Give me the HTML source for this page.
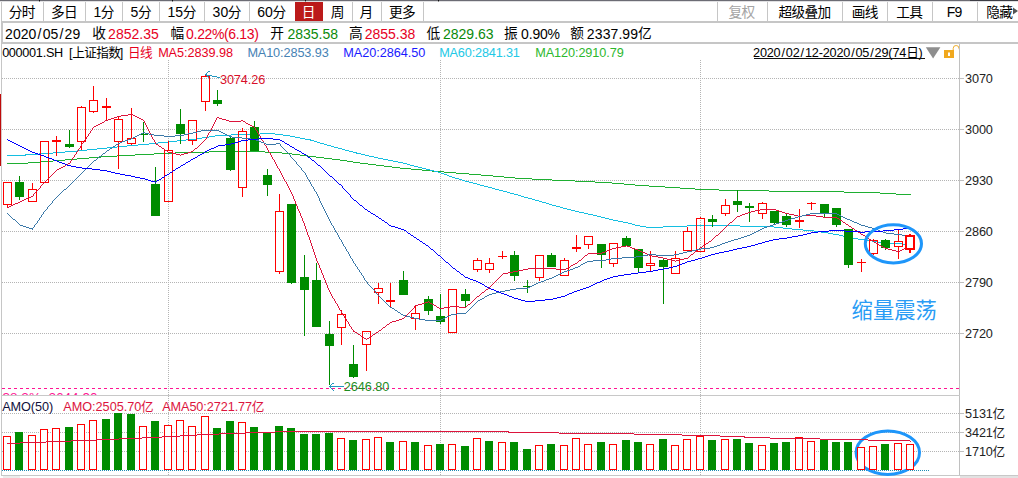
<!DOCTYPE html>
<html><head><meta charset="utf-8"><title>000001.SH</title>
<style>html,body{margin:0;padding:0;background:#fff;overflow:hidden}body{width:1018px;height:478px;font-family:"Liberation Sans", sans-serif}.cj{font-family:"Liberation Sans","Noto Sans CJK SC",sans-serif}</style>
</head><body><svg width="1018" height="478" viewBox="0 0 1018 478" font-family='"Liberation Sans", sans-serif' style="display:block"><rect x="0" y="0" width="1018" height="478" fill="#fff"/>
<rect x="0" y="0" width="1018" height="1" fill="#6c6c74"/>
<rect x="0" y="1" width="1018" height="1" fill="#e0e0e2"/>
<rect x="970" y="0" width="48" height="1" fill="#3c3c44"/>
<rect x="39" y="0" width="1" height="1" fill="#111"/>
<rect x="39" y="1" width="1" height="1" fill="#888"/>
<rect x="172" y="0" width="1" height="1" fill="#111"/>
<rect x="172" y="1" width="1" height="1" fill="#888"/>
<rect x="305" y="0" width="1" height="1" fill="#111"/>
<rect x="305" y="1" width="1" height="1" fill="#888"/>
<rect x="438" y="0" width="1" height="1" fill="#111"/>
<rect x="438" y="1" width="1" height="1" fill="#888"/>
<rect x="1" y="2" width="1" height="474" fill="#c6c6c6"/>
<rect x="0" y="94" width="1" height="72" fill="#bf0a0a"/>
<rect x="1" y="94" width="1" height="72" fill="#d8c8c8"/>
<rect x="43" y="2" width="1" height="19" fill="#c6c6c6"/>
<rect x="85" y="2" width="1" height="19" fill="#c6c6c6"/>
<rect x="122" y="2" width="1" height="19" fill="#c6c6c6"/>
<rect x="159" y="2" width="1" height="19" fill="#c6c6c6"/>
<rect x="204" y="2" width="1" height="19" fill="#c6c6c6"/>
<rect x="249" y="2" width="1" height="19" fill="#c6c6c6"/>
<rect x="352" y="2" width="1" height="19" fill="#c6c6c6"/>
<rect x="381" y="2" width="1" height="19" fill="#c6c6c6"/>
<rect x="423" y="2" width="1" height="19" fill="#c6c6c6"/>
<rect x="717" y="2" width="1" height="19" fill="#c6c6c6"/>
<rect x="767" y="2" width="1" height="19" fill="#c6c6c6"/>
<rect x="842" y="2" width="1" height="19" fill="#c6c6c6"/>
<rect x="887" y="2" width="1" height="19" fill="#c6c6c6"/>
<rect x="932" y="2" width="1" height="19" fill="#c6c6c6"/>
<rect x="977" y="2" width="1" height="19" fill="#c6c6c6"/>
<rect x="295" y="2" width="28" height="19" fill="#bb1a1a"/>
<rect x="1" y="21" width="1017" height="2" fill="#c6c6c6"/>
<rect x="1" y="42" width="1017" height="2" fill="#c6c6c6"/>
<rect x="2" y="23" width="1" height="19" fill="#c6c6c6"/>
<text class="cj" x="8.68 21.68" y="17.25" font-size="13.7" fill="#000">分时</text>
<text class="cj" x="50.88 63.88" y="17.25" font-size="13.7" fill="#000">多日</text>
<text x="93.40" y="16.90" font-size="14.0" fill="#000">1</text>
<text class="cj" x="100.86" y="17.25" font-size="13.7" fill="#000">分</text>
<text x="130.50" y="16.90" font-size="14.0" fill="#000">5</text>
<text class="cj" x="137.96" y="17.25" font-size="13.7" fill="#000">分</text>
<text x="167.40 175.19" y="16.90" font-size="14.0" fill="#000">15</text>
<text class="cj" x="182.65" y="17.25" font-size="13.7" fill="#000">分</text>
<text x="212.60 220.39" y="16.90" font-size="14.0" fill="#000">30</text>
<text class="cj" x="227.85" y="17.25" font-size="13.7" fill="#000">分</text>
<text x="257.20 264.99" y="16.90" font-size="14.0" fill="#000">60</text>
<text class="cj" x="272.45" y="17.25" font-size="13.7" fill="#000">分</text>
<text class="cj" x="301.68" y="17.25" font-size="13.7" fill="#fff">日</text>
<text class="cj" x="330.68" y="17.25" font-size="13.7" fill="#000">周</text>
<text class="cj" x="359.48" y="17.25" font-size="13.7" fill="#000">月</text>
<text class="cj" x="388.98 401.98" y="17.25" font-size="13.7" fill="#000">更多</text>
<text class="cj" x="728.57 741.57" y="17.25" font-size="13.7" fill="#a4a4a4">复权</text>
<text class="cj" x="778.57 791.57 804.57 817.57" y="17.25" font-size="13.7" fill="#000">超级叠加</text>
<text class="cj" x="851.67 864.67" y="17.25" font-size="13.7" fill="#000">画线</text>
<text class="cj" x="896.17 909.17" y="17.25" font-size="13.7" fill="#000">工具</text>
<text x="946.75 954.43" y="16.90" font-size="14.0" fill="#000">F9</text>
<text class="cj" x="986.17 999.17" y="17.25" font-size="13.7" fill="#000">隐藏</text>
<path d="M1013 7.5 L1018 11 L1013 14.5Z" fill="#555"/>
<text x="5.03 12.88 20.73 28.57 37.55 42.63 50.48 59.46 64.54 72.38" y="38.70" font-size="14.0" fill="#000">2020/05/29</text>
<text class="cj" x="92.27" y="38.45" font-size="13.7" fill="#000">收</text>
<text x="108.10 115.88 123.67 131.45 139.24 143.13 150.91" y="38.70" font-size="14.0" fill="#e6001e">2852.35</text>
<text class="cj" x="170.58" y="38.45" font-size="13.7" fill="#000">幅</text>
<text x="186.11 193.61 197.21 204.61 211.89 223.92 228.27 235.77 239.37 246.77 254.25" y="38.70" font-size="14.0" fill="#e6001e">0.22%(6.13)</text>
<text class="cj" x="270.28" y="38.45" font-size="13.7" fill="#000">开</text>
<text x="287.40 295.18 302.97 310.75 318.54 322.43 330.21" y="38.70" font-size="14.0" fill="#0a8a0a">2835.58</text>
<text class="cj" x="348.88" y="38.45" font-size="13.7" fill="#000">高</text>
<text x="364.70 372.48 380.27 388.05 395.84 399.73 407.51" y="38.70" font-size="14.0" fill="#e6001e">2855.38</text>
<text class="cj" x="426.57" y="38.45" font-size="13.7" fill="#000">低</text>
<text x="443.00 450.78 458.57 466.35 474.14 478.03 485.81" y="38.70" font-size="14.0" fill="#0a8a0a">2829.63</text>
<text class="cj" x="503.98" y="38.45" font-size="13.7" fill="#000">振</text>
<text x="521.00 528.64 532.39 539.98 547.51" y="38.70" font-size="14.0" fill="#000">0.90%</text>
<text class="cj" x="570.27" y="38.45" font-size="13.7" fill="#000">额</text>
<text x="586.85 594.75 602.64 610.53 618.40 622.37 630.26" y="38.70" font-size="14.0" fill="#000">2337.99</text>
<text class="cj" x="637.97" y="38.45" font-size="13.7" fill="#000">亿</text>
<text x="2.14 8.87 15.61 22.34 29.08 35.81 42.63 45.88 53.94" y="56.80" font-size="12.7" fill="#000">000001.SH</text>
<text x="69.04" y="56.80" font-size="12.7" fill="#000">[</text>
<text class="cj" x="72.30 84.30 96.30 108.30" y="57.03" font-size="12.6" fill="#000">上证指数</text>
<text x="119.64" y="56.80" font-size="12.7" fill="#000">]</text>
<text class="cj" x="127.90 139.90" y="57.03" font-size="12.6" fill="#e6001e">日线</text>
<text x="158.14 168.61 177.00 184.00 187.47 194.45 201.44 208.42 215.42 218.89 225.88" y="56.80" font-size="12.7" fill="#e6001e">MA5:2839.98</text>
<text x="247.41 257.83 266.16 273.11 280.08 283.52 290.46 297.40 304.34 311.32 314.75 321.70" y="56.80" font-size="12.7" fill="#4682b4">MA10:2853.93</text>
<text x="343.35 353.83 362.23 369.22 376.23 379.71 386.70 393.70 400.69 407.70 411.18 418.17" y="56.80" font-size="12.7" fill="#1a1aff">MA20:2864.50</text>
<text x="439.26 449.58 457.85 464.72 471.64 475.03 481.90 488.78 495.65 502.57 505.96 512.83" y="56.80" font-size="12.7" fill="#22c8e6">MA60:2841.31</text>
<text x="535.22 545.67 554.03 560.99 567.95 574.94 578.40 585.36 592.32 599.28 606.27 609.72 616.69" y="56.80" font-size="12.7" fill="#2db82d">MA120:2910.79</text>
<text x="753.09 759.93 766.77 773.62 781.51 785.87 792.71 800.61 804.97 811.81 818.70 822.75 829.59 836.43 843.27 851.17 855.53 862.37 870.26 874.62 881.47 888.35 892.41 899.25" y="56.80" font-size="12.7" fill="#000">2020/02/12-2020/05/29(74</text>
<text class="cj" x="906.20" y="57.03" font-size="12.6" fill="#000">日</text>
<text x="918.49" y="56.80" font-size="12.7" fill="#000">)</text>
<rect x="754" y="58" width="171" height="1" fill="#111"/>
<path d="M925.8 47.2 L940.4 47.2 L933.1 58.6Z" fill="#8e8e8e"/>
<rect x="944" y="50" width="10" height="8" fill="#f0a81e"/>
<rect x="948" y="52.5" width="2" height="3.5" fill="#fff"/>
<path d="M953.2 50 V48.4 A2.9 2.9 0 0 1 959 48.4 V49.2" fill="none" stroke="#f0b030" stroke-width="1"/>
<rect x="959" y="44" width="1" height="432" fill="#c0c0c0"/>
<rect x="1" y="395" width="959" height="1" fill="#c8c8c8"/>
<rect x="1" y="475" width="1017" height="1" fill="#c8c8c8"/>
<rect x="960" y="476" width="58" height="2" fill="#e2e2e2"/>
<rect x="3" y="476" width="17" height="2" fill="#ececec"/>
<path d="M2 78.5H959" stroke="#b4b4b4" stroke-width="1" stroke-dasharray="1 1"/>
<rect x="959" y="78" width="5" height="1" fill="#c0c0c0"/>
<text x="965.12 972.02 978.92 985.82" y="82.70" font-size="12.7" fill="#222">3070</text>
<path d="M2 129.5H959" stroke="#b4b4b4" stroke-width="1" stroke-dasharray="1 1"/>
<rect x="959" y="129" width="5" height="1" fill="#c0c0c0"/>
<text x="965.12 972.02 978.92 985.82" y="133.70" font-size="12.7" fill="#222">3000</text>
<path d="M2 180.5H959" stroke="#b4b4b4" stroke-width="1" stroke-dasharray="1 1"/>
<rect x="959" y="180" width="5" height="1" fill="#c0c0c0"/>
<text x="965.12 972.02 978.92 985.82" y="184.70" font-size="12.7" fill="#222">2930</text>
<path d="M2 231.5H959" stroke="#b4b4b4" stroke-width="1" stroke-dasharray="1 1"/>
<rect x="959" y="231" width="5" height="1" fill="#c0c0c0"/>
<text x="965.12 972.02 978.92 985.82" y="235.70" font-size="12.7" fill="#222">2860</text>
<path d="M2 282.5H959" stroke="#b4b4b4" stroke-width="1" stroke-dasharray="1 1"/>
<rect x="959" y="282" width="5" height="1" fill="#c0c0c0"/>
<text x="965.12 972.02 978.92 985.82" y="286.70" font-size="12.7" fill="#222">2790</text>
<path d="M2 333.5H959" stroke="#b4b4b4" stroke-width="1" stroke-dasharray="1 1"/>
<rect x="959" y="333" width="5" height="1" fill="#c0c0c0"/>
<text x="965.12 972.02 978.92 985.82" y="337.70" font-size="12.7" fill="#222">2720</text>
<path d="M168.5 60V395" stroke="#b4b4b4" stroke-width="1" stroke-dasharray="1 1"/>
<path d="M168.5 396V475" stroke="#b4b4b4" stroke-width="1" stroke-dasharray="1 1"/>
<path d="M440.5 60V395" stroke="#b4b4b4" stroke-width="1" stroke-dasharray="1 1"/>
<path d="M440.5 396V475" stroke="#b4b4b4" stroke-width="1" stroke-dasharray="1 1"/>
<path d="M700.5 60V395" stroke="#b4b4b4" stroke-width="1" stroke-dasharray="1 1"/>
<path d="M700.5 396V475" stroke="#b4b4b4" stroke-width="1" stroke-dasharray="1 1"/>
<path d="M2 413.5H959" stroke="#b4b4b4" stroke-width="1" stroke-dasharray="1 1"/>
<rect x="959" y="413" width="5" height="1" fill="#c0c0c0"/>
<text x="965.12 972.02 978.92 985.82" y="417.70" font-size="12.7" fill="#222">5131</text>
<text class="cj" x="992.50" y="417.93" font-size="12.6" fill="#222">亿</text>
<path d="M2 432.5H959" stroke="#b4b4b4" stroke-width="1" stroke-dasharray="1 1"/>
<rect x="959" y="432" width="5" height="1" fill="#c0c0c0"/>
<text x="965.12 972.02 978.92 985.82" y="436.70" font-size="12.7" fill="#222">3421</text>
<text class="cj" x="992.50" y="436.93" font-size="12.6" fill="#222">亿</text>
<path d="M2 451.5H959" stroke="#b4b4b4" stroke-width="1" stroke-dasharray="1 1"/>
<rect x="959" y="451" width="5" height="1" fill="#c0c0c0"/>
<text x="965.12 972.02 978.92 985.82" y="455.70" font-size="12.7" fill="#222">1710</text>
<text class="cj" x="992.50" y="455.93" font-size="12.6" fill="#222">亿</text>
<path d="M2 470.5H929" stroke="#1e8cb4" stroke-width="1" stroke-dasharray="1 1"/>
<path d="M2 388.5H959" stroke="#ff1493" stroke-width="1" stroke-dasharray="3 3"/>
<clipPath id="cl1"><rect x="0" y="389" width="200" height="6"/></clipPath>
<g clip-path="url(#cl1)"><text x="2.5" y="401.5" font-size="12" fill="#ff1493" textLength="95" lengthAdjust="spacingAndGlyphs">38.2%: 2644.90</text></g>
<path d="M209 151h56v1h-56zM175 152h34v1h-34zM265 152h17v1h-17zM154 153h22v1h-22zM282 153h10v1h-10zM135 154h19v1h-19zM292 154h8v1h-8zM117 155h18v1h-18zM300 155h8v1h-8zM100 156h17v1h-17zM308 156h8v1h-8zM89 157h12v1h-12zM316 157h8v1h-8zM77 158h12v1h-12zM324 158h8v1h-8zM65 159h12v1h-12zM332 159h8v1h-8zM53 160h12v1h-12zM340 160h7v1h-7zM40 161h13v1h-13zM347 161h6v1h-6zM28 162h12v1h-12zM353 162h7v1h-7zM7 163h21v1h-21zM360 163h8v1h-8zM368 164h8v1h-8zM376 165h8v1h-8zM384 166h8v1h-8zM392 167h8v1h-8zM400 168h11v1h-11zM411 169h11v1h-11zM422 170h10v1h-10zM432 171h12v1h-12zM444 172h12v1h-12zM456 173h13v1h-13zM469 174h12v1h-12zM481 175h12v1h-12zM493 176h11v1h-11zM504 177h11v1h-11zM515 178h17v1h-17zM532 179h20v1h-20zM552 180h23v1h-23zM575 181h20v1h-20zM595 182h17v1h-17zM612 183h12v1h-12zM624 184h11v1h-11zM635 185h14v1h-14zM649 186h16v1h-16zM665 187h15v1h-15zM680 188h15v1h-15zM695 189h24v1h-24zM719 190h50v1h-50zM769 191h75v1h-75zM844 192h36v1h-36zM880 193h16v1h-16zM896 194h15v1h-15z" fill="#1eaf32"/>
<path d="M260 133h15v1h-15zM231 134h29v1h-29zM275 134h8v1h-8zM215 135h16v1h-16zM283 135h7v1h-7zM209 136h6v1h-6zM290 136h5v1h-5zM202 137h7v1h-7zM295 137h5v1h-5zM196 138h6v1h-6zM300 138h5v1h-5zM186 139h11v1h-11zM305 139h6v1h-6zM177 140h9v1h-9zM310 140h4v1h-4zM168 141h9v1h-9zM314 141h3v1h-3zM158 142h10v1h-10zM317 142h3v1h-3zM149 143h9v1h-9zM320 143h4v1h-4zM138 144h11v1h-11zM324 144h3v1h-3zM127 145h11v1h-11zM327 145h4v1h-4zM117 146h10v1h-10zM331 146h3v1h-3zM107 147h10v1h-10zM334 147h4v1h-4zM97 148h10v1h-10zM338 148h4v1h-4zM87 149h10v1h-10zM342 149h3v1h-3zM77 150h10v1h-10zM345 150h4v1h-4zM65 151h12v1h-12zM349 151h4v1h-4zM53 152h12v1h-12zM353 152h4v1h-4zM39 153h14v1h-14zM356 153h5v1h-5zM25 154h14v1h-14zM361 154h4v1h-4zM7 155h19v1h-19zM365 155h4v1h-4zM369 156h5v1h-5zM374 157h4v1h-4zM378 158h5v1h-5zM383 159h5v1h-5zM388 160h5v1h-5zM393 161h5v1h-5zM398 162h5v1h-5zM403 163h4v1h-4zM407 164h3v1h-3zM410 165h4v1h-4zM414 166h4v1h-4zM418 167h4v1h-4zM422 168h4v1h-4zM426 169h4v1h-4zM430 170h4v1h-4zM434 171h4v1h-4zM438 172h3v1h-3zM441 173h3v1h-3zM444 174h3v1h-3zM447 175h2v1h-2zM449 176h3v1h-3zM452 177h3v1h-3zM455 178h4v1h-4zM459 179h3v1h-3zM462 180h3v1h-3zM465 181h4v1h-4zM469 182h4v1h-4zM473 183h4v1h-4zM477 184h3v1h-3zM480 185h4v1h-4zM484 186h4v1h-4zM488 187h4v1h-4zM492 188h3v1h-3zM495 189h4v1h-4zM499 190h4v1h-4zM503 191h4v1h-4zM507 192h3v1h-3zM510 193h4v1h-4zM514 194h4v1h-4zM518 195h3v1h-3zM521 196h3v1h-3zM524 197h4v1h-4zM528 198h4v1h-4zM532 199h3v1h-3zM535 200h4v1h-4zM539 201h3v1h-3zM542 202h4v1h-4zM546 203h3v1h-3zM549 204h3v1h-3zM552 205h4v1h-4zM556 206h4v1h-4zM560 207h3v1h-3zM563 208h4v1h-4zM567 209h4v1h-4zM571 210h4v1h-4zM575 211h4v1h-4zM579 212h5v1h-5zM584 213h4v1h-4zM588 214h5v1h-5zM593 215h4v1h-4zM597 216h4v1h-4zM601 217h4v1h-4zM605 218h4v1h-4zM609 219h4v1h-4zM613 220h5v1h-5zM618 221h5v1h-5zM623 222h5v1h-5zM628 223h4v1h-4zM632 224h3v1h-3zM635 225h5v1h-5zM687 225h53v1h-53zM640 226h6v1h-6zM663 226h24v1h-24zM740 226h34v1h-34zM646 227h17v1h-17zM774 227h9v1h-9zM783 228h9v1h-9zM792 229h11v1h-11zM803 230h11v1h-11zM814 231h7v1h-7zM821 232h7v1h-7zM828 233h5v1h-5zM833 234h6v1h-6zM839 235h4v1h-4zM843 236h5v1h-5zM848 237h5v1h-5zM853 238h5v1h-5zM858 239h7v1h-7zM865 240h7v1h-7zM872 241h6v1h-6zM878 242h7v1h-7zM885 243h17v1h-17zM902 244h9v1h-9z" fill="#14bee1"/>
<rect x="7" y="205" width="1" height="2" fill="#ff0000"/>
<rect x="3.5" y="182.5" width="8" height="22" fill="none" stroke="#ff0000" stroke-width="1"/>
<rect x="19" y="176" width="1" height="24" fill="#008c00"/>
<rect x="15" y="182" width="9" height="15" fill="#008c00"/>
<rect x="32" y="183" width="1" height="6" fill="#ff0000"/>
<rect x="28.5" y="189.5" width="8" height="12" fill="none" stroke="#ff0000" stroke-width="1"/>
<rect x="40.5" y="141.5" width="8" height="41" fill="none" stroke="#ff0000" stroke-width="1"/>
<rect x="56" y="136" width="1" height="4" fill="#ff0000"/>
<rect x="56" y="142" width="1" height="14" fill="#ff0000"/>
<rect x="52.5" y="140.5" width="8" height="1" fill="none" stroke="#ff0000" stroke-width="1"/>
<rect x="69" y="130" width="1" height="18" fill="#008c00"/>
<rect x="65" y="144" width="9" height="3" fill="#008c00"/>
<rect x="81" y="106" width="1" height="1" fill="#ff0000"/>
<rect x="81" y="142" width="1" height="8" fill="#ff0000"/>
<rect x="77.5" y="107.5" width="8" height="34" fill="none" stroke="#ff0000" stroke-width="1"/>
<rect x="93" y="86" width="1" height="14" fill="#ff0000"/>
<rect x="93" y="112" width="1" height="1" fill="#ff0000"/>
<rect x="89.5" y="100.5" width="8" height="11" fill="none" stroke="#ff0000" stroke-width="1"/>
<rect x="106" y="98" width="1" height="8" fill="#ff0000"/>
<rect x="106" y="108" width="1" height="12" fill="#ff0000"/>
<rect x="102.5" y="106.5" width="8" height="1" fill="none" stroke="#ff0000" stroke-width="1"/>
<rect x="118" y="117" width="1" height="2" fill="#ff0000"/>
<rect x="118" y="142" width="1" height="27" fill="#ff0000"/>
<rect x="114.5" y="119.5" width="8" height="22" fill="none" stroke="#ff0000" stroke-width="1"/>
<rect x="131" y="108" width="1" height="30" fill="#ff0000"/>
<rect x="131" y="144" width="1" height="1" fill="#ff0000"/>
<rect x="127.5" y="138.5" width="8" height="5" fill="none" stroke="#ff0000" stroke-width="1"/>
<rect x="143" y="122" width="1" height="20" fill="#008c00"/>
<rect x="139" y="134" width="9" height="1" fill="#008c00"/>
<rect x="155" y="167" width="1" height="49" fill="#008c00"/>
<rect x="151" y="184" width="9" height="32" fill="#008c00"/>
<rect x="168" y="141" width="1" height="9" fill="#ff0000"/>
<rect x="164.5" y="150.5" width="8" height="51" fill="none" stroke="#ff0000" stroke-width="1"/>
<rect x="180" y="109" width="1" height="35" fill="#008c00"/>
<rect x="176" y="124" width="9" height="10" fill="#008c00"/>
<rect x="192" y="141" width="1" height="4" fill="#ff0000"/>
<rect x="188.5" y="120.5" width="8" height="20" fill="none" stroke="#ff0000" stroke-width="1"/>
<rect x="205" y="74" width="1" height="2" fill="#ff0000"/>
<rect x="205" y="102" width="1" height="9" fill="#ff0000"/>
<rect x="201.5" y="76.5" width="8" height="25" fill="none" stroke="#ff0000" stroke-width="1"/>
<rect x="217" y="90" width="1" height="16" fill="#008c00"/>
<rect x="213" y="100" width="9" height="4" fill="#008c00"/>
<rect x="230" y="136" width="1" height="35" fill="#008c00"/>
<rect x="226" y="138" width="9" height="32" fill="#008c00"/>
<rect x="242" y="128" width="1" height="3" fill="#ff0000"/>
<rect x="242" y="188" width="1" height="9" fill="#ff0000"/>
<rect x="238.5" y="131.5" width="8" height="56" fill="none" stroke="#ff0000" stroke-width="1"/>
<rect x="254" y="121" width="1" height="30" fill="#008c00"/>
<rect x="250" y="127" width="9" height="24" fill="#008c00"/>
<rect x="267" y="169" width="1" height="27" fill="#008c00"/>
<rect x="263" y="175" width="9" height="10" fill="#008c00"/>
<rect x="279" y="194" width="1" height="17" fill="#ff0000"/>
<rect x="279" y="272" width="1" height="2" fill="#ff0000"/>
<rect x="275.5" y="211.5" width="8" height="60" fill="none" stroke="#ff0000" stroke-width="1"/>
<rect x="291" y="204" width="1" height="80" fill="#008c00"/>
<rect x="287" y="204" width="9" height="79" fill="#008c00"/>
<rect x="304" y="255" width="1" height="81" fill="#008c00"/>
<rect x="300" y="277" width="9" height="13" fill="#008c00"/>
<rect x="316" y="263" width="1" height="64" fill="#008c00"/>
<rect x="312" y="280" width="9" height="47" fill="#008c00"/>
<rect x="329" y="321" width="1" height="64" fill="#008c00"/>
<rect x="325" y="334" width="9" height="12" fill="#008c00"/>
<rect x="341" y="310" width="1" height="4" fill="#ff0000"/>
<rect x="341" y="328" width="1" height="17" fill="#ff0000"/>
<rect x="337.5" y="314.5" width="8" height="13" fill="none" stroke="#ff0000" stroke-width="1"/>
<rect x="353" y="345" width="1" height="33" fill="#008c00"/>
<rect x="349" y="364" width="9" height="13" fill="#008c00"/>
<rect x="366" y="345" width="1" height="26" fill="#ff0000"/>
<rect x="362.5" y="331.5" width="8" height="13" fill="none" stroke="#ff0000" stroke-width="1"/>
<rect x="378" y="283" width="1" height="5" fill="#ff0000"/>
<rect x="378" y="293" width="1" height="11" fill="#ff0000"/>
<rect x="374.5" y="288.5" width="8" height="4" fill="none" stroke="#ff0000" stroke-width="1"/>
<rect x="390" y="283" width="1" height="17" fill="#ff0000"/>
<rect x="390" y="302" width="1" height="5" fill="#ff0000"/>
<rect x="386.5" y="300.5" width="8" height="1" fill="none" stroke="#ff0000" stroke-width="1"/>
<rect x="403" y="271" width="1" height="24" fill="#008c00"/>
<rect x="399" y="280" width="9" height="15" fill="#008c00"/>
<rect x="415" y="305" width="1" height="8" fill="#ff0000"/>
<rect x="415" y="319" width="1" height="11" fill="#ff0000"/>
<rect x="411.5" y="313.5" width="8" height="5" fill="none" stroke="#ff0000" stroke-width="1"/>
<rect x="428" y="296" width="1" height="19" fill="#008c00"/>
<rect x="424" y="299" width="9" height="12" fill="#008c00"/>
<rect x="440" y="294" width="1" height="30" fill="#008c00"/>
<rect x="436" y="316" width="9" height="6" fill="#008c00"/>
<rect x="448.5" y="289.5" width="8" height="43" fill="none" stroke="#ff0000" stroke-width="1"/>
<rect x="465" y="289" width="1" height="18" fill="#008c00"/>
<rect x="461" y="294" width="9" height="7" fill="#008c00"/>
<rect x="477" y="258" width="1" height="2" fill="#ff0000"/>
<rect x="477" y="270" width="1" height="2" fill="#ff0000"/>
<rect x="473.5" y="260.5" width="8" height="9" fill="none" stroke="#ff0000" stroke-width="1"/>
<rect x="489" y="258" width="1" height="5" fill="#ff0000"/>
<rect x="489" y="270" width="1" height="3" fill="#ff0000"/>
<rect x="485.5" y="263.5" width="8" height="6" fill="none" stroke="#ff0000" stroke-width="1"/>
<rect x="502" y="251" width="1" height="5" fill="#ff0000"/>
<rect x="502" y="257" width="1" height="2" fill="#ff0000"/>
<rect x="498" y="256" width="9" height="1" fill="#ff0000"/>
<rect x="514" y="251" width="1" height="30" fill="#008c00"/>
<rect x="510" y="255" width="9" height="21" fill="#008c00"/>
<rect x="527" y="280" width="1" height="13" fill="#008c00"/>
<rect x="523" y="286" width="9" height="1" fill="#008c00"/>
<rect x="539" y="278" width="1" height="3" fill="#ff0000"/>
<rect x="535.5" y="255.5" width="8" height="22" fill="none" stroke="#ff0000" stroke-width="1"/>
<rect x="551" y="253" width="1" height="14" fill="#008c00"/>
<rect x="547" y="255" width="9" height="12" fill="#008c00"/>
<rect x="564" y="258" width="1" height="2" fill="#ff0000"/>
<rect x="560.5" y="260.5" width="8" height="15" fill="none" stroke="#ff0000" stroke-width="1"/>
<rect x="576" y="235" width="1" height="12" fill="#ff0000"/>
<rect x="576" y="249" width="1" height="3" fill="#ff0000"/>
<rect x="572.5" y="247.5" width="8" height="1" fill="none" stroke="#ff0000" stroke-width="1"/>
<rect x="588" y="245" width="1" height="4" fill="#ff0000"/>
<rect x="584.5" y="236.5" width="8" height="8" fill="none" stroke="#ff0000" stroke-width="1"/>
<rect x="601" y="244" width="1" height="24" fill="#008c00"/>
<rect x="597" y="244" width="9" height="11" fill="#008c00"/>
<rect x="613" y="264" width="1" height="3" fill="#ff0000"/>
<rect x="609.5" y="243.5" width="8" height="20" fill="none" stroke="#ff0000" stroke-width="1"/>
<rect x="626" y="236" width="1" height="10" fill="#008c00"/>
<rect x="622" y="238" width="9" height="8" fill="#008c00"/>
<rect x="638" y="249" width="1" height="23" fill="#008c00"/>
<rect x="634" y="249" width="9" height="19" fill="#008c00"/>
<rect x="650" y="251" width="1" height="12" fill="#ff0000"/>
<rect x="650" y="266" width="1" height="5" fill="#ff0000"/>
<rect x="646.5" y="263.5" width="8" height="2" fill="none" stroke="#ff0000" stroke-width="1"/>
<rect x="663" y="259" width="1" height="45" fill="#008c00"/>
<rect x="659" y="260" width="9" height="7" fill="#008c00"/>
<rect x="675" y="251" width="1" height="7" fill="#ff0000"/>
<rect x="671.5" y="258.5" width="8" height="15" fill="none" stroke="#ff0000" stroke-width="1"/>
<rect x="687" y="227" width="1" height="4" fill="#ff0000"/>
<rect x="683.5" y="231.5" width="8" height="19" fill="none" stroke="#ff0000" stroke-width="1"/>
<rect x="700" y="217" width="1" height="1" fill="#ff0000"/>
<rect x="696.5" y="218.5" width="8" height="33" fill="none" stroke="#ff0000" stroke-width="1"/>
<rect x="712" y="215" width="1" height="12" fill="#008c00"/>
<rect x="708" y="219" width="9" height="3" fill="#008c00"/>
<rect x="725" y="199" width="1" height="6" fill="#ff0000"/>
<rect x="725" y="214" width="1" height="2" fill="#ff0000"/>
<rect x="721.5" y="205.5" width="8" height="8" fill="none" stroke="#ff0000" stroke-width="1"/>
<rect x="737" y="190" width="1" height="22" fill="#008c00"/>
<rect x="733" y="201" width="9" height="4" fill="#008c00"/>
<rect x="749" y="203" width="1" height="19" fill="#008c00"/>
<rect x="745" y="206" width="9" height="2" fill="#008c00"/>
<rect x="762" y="202" width="1" height="1" fill="#ff0000"/>
<rect x="762" y="214" width="1" height="5" fill="#ff0000"/>
<rect x="758.5" y="203.5" width="8" height="10" fill="none" stroke="#ff0000" stroke-width="1"/>
<rect x="774" y="211" width="1" height="13" fill="#008c00"/>
<rect x="770" y="211" width="9" height="12" fill="#008c00"/>
<rect x="786" y="214" width="1" height="13" fill="#008c00"/>
<rect x="782" y="216" width="9" height="9" fill="#008c00"/>
<rect x="799" y="209" width="1" height="11" fill="#ff0000"/>
<rect x="799" y="222" width="1" height="6" fill="#ff0000"/>
<rect x="795.5" y="220.5" width="8" height="1" fill="none" stroke="#ff0000" stroke-width="1"/>
<rect x="811" y="202" width="1" height="1" fill="#ff0000"/>
<rect x="811" y="204" width="1" height="6" fill="#ff0000"/>
<rect x="807" y="203" width="9" height="1" fill="#ff0000"/>
<rect x="824" y="204" width="1" height="13" fill="#008c00"/>
<rect x="820" y="204" width="9" height="9" fill="#008c00"/>
<rect x="836" y="208" width="1" height="19" fill="#008c00"/>
<rect x="832" y="208" width="9" height="17" fill="#008c00"/>
<rect x="848" y="229" width="1" height="39" fill="#008c00"/>
<rect x="844" y="229" width="9" height="36" fill="#008c00"/>
<rect x="861" y="259" width="1" height="3" fill="#ff0000"/>
<rect x="861" y="263" width="1" height="9" fill="#ff0000"/>
<rect x="857" y="262" width="9" height="1" fill="#ff0000"/>
<rect x="873" y="239" width="1" height="1" fill="#ff0000"/>
<rect x="873" y="254" width="1" height="1" fill="#ff0000"/>
<rect x="869.5" y="240.5" width="8" height="13" fill="none" stroke="#ff0000" stroke-width="1"/>
<rect x="885" y="239" width="1" height="11" fill="#008c00"/>
<rect x="881" y="240" width="9" height="8" fill="#008c00"/>
<rect x="898" y="229" width="1" height="12" fill="#ff0000"/>
<rect x="898" y="247" width="1" height="12" fill="#ff0000"/>
<rect x="894.5" y="241.5" width="8" height="5" fill="none" stroke="#ff0000" stroke-width="1"/>
<path d="M128 114h5v1h-5zM121 115h7v1h-7zM133 115h2v1h-2zM117 116h4v1h-4zM135 116h2v1h-2zM114 117h3v1h-3zM137 117h2v1h-2zM217 117h2v1h-2zM111 118h3v1h-3zM139 118h2v1h-2zM219 118h3v1h-3zM108 119h3v1h-3zM141 119h2v1h-2zM222 119h4v1h-4zM105 120h3v1h-3zM226 120h3v1h-3zM241 120h2v1h-2zM229 121h12v1h-12zM243 121h2v1h-2zM102 122h2v1h-2zM100 123h2v1h-2zM246 123h2v1h-2zM98 124h2v1h-2zM248 124h2v1h-2zM96 125h2v1h-2zM250 125h2v1h-2zM94 126h2v1h-2zM252 126h2v1h-2zM156 144h2v1h-2zM159 146h2v1h-2zM162 148h2v1h-2zM195 148h2v1h-2zM165 150h2v1h-2zM191 151h2v1h-2zM168 152h4v1h-4zM188 152h3v1h-3zM172 153h4v1h-4zM184 153h4v1h-4zM176 154h4v1h-4zM181 154h3v1h-3zM68 163h2v1h-2zM66 164h2v1h-2zM63 166h2v1h-2zM61 167h2v1h-2zM59 168h2v1h-2zM57 169h2v1h-2zM31 196h2v1h-2zM28 197h3v1h-3zM26 198h2v1h-2zM24 199h2v1h-2zM22 200h2v1h-2zM20 201h2v1h-2zM18 202h2v1h-2zM15 203h3v1h-3zM13 204h2v1h-2zM11 205h2v1h-2zM9 206h2v1h-2zM7 207h2v1h-2zM760 209h16v1h-16zM755 210h5v1h-5zM776 210h3v1h-3zM751 211h4v1h-4zM779 211h3v1h-3zM748 212h3v1h-3zM782 212h3v1h-3zM745 213h3v1h-3zM785 213h4v1h-4zM742 214h3v1h-3zM789 214h5v1h-5zM740 215h2v1h-2zM794 215h4v1h-4zM802 215h14v1h-14zM737 216h3v1h-3zM798 216h4v1h-4zM816 216h7v1h-7zM823 217h14v1h-14zM837 218h2v1h-2zM840 220h2v1h-2zM730 222h2v1h-2zM843 222h2v1h-2zM846 224h2v1h-2zM849 226h2v1h-2zM852 228h2v1h-2zM855 230h2v1h-2zM858 232h2v1h-2zM861 234h2v1h-2zM716 235h2v1h-2zM863 235h2v1h-2zM866 237h2v1h-2zM869 239h2v1h-2zM871 240h2v1h-2zM709 241h2v1h-2zM874 242h2v1h-2zM706 243h2v1h-2zM876 243h2v1h-2zM703 245h2v1h-2zM879 245h2v1h-2zM621 246h5v1h-5zM627 246h3v1h-3zM881 246h2v1h-2zM908 246h2v1h-2zM616 247h5v1h-5zM630 247h2v1h-2zM700 247h2v1h-2zM883 247h2v1h-2zM906 247h2v1h-2zM612 248h4v1h-4zM632 248h3v1h-3zM885 248h3v1h-3zM904 248h2v1h-2zM610 249h2v1h-2zM635 249h3v1h-3zM888 249h4v1h-4zM902 249h2v1h-2zM607 250h3v1h-3zM638 250h2v1h-2zM892 250h4v1h-4zM900 250h2v1h-2zM605 251h2v1h-2zM640 251h2v1h-2zM695 251h2v1h-2zM896 251h4v1h-4zM602 252h3v1h-3zM642 252h3v1h-3zM588 253h14v1h-14zM645 253h2v1h-2zM647 254h2v1h-2zM691 254h2v1h-2zM585 255h2v1h-2zM649 255h3v1h-3zM652 256h6v1h-6zM658 257h5v1h-5zM663 258h4v1h-4zM684 258h4v1h-4zM667 259h4v1h-4zM680 259h4v1h-4zM579 260h2v1h-2zM671 260h4v1h-4zM676 260h4v1h-4zM575 263h2v1h-2zM573 264h2v1h-2zM571 265h2v1h-2zM568 267h2v1h-2zM528 268h28v1h-28zM566 268h2v1h-2zM523 269h5v1h-5zM556 269h10v1h-10zM518 270h5v1h-5zM513 271h5v1h-5zM508 272h5v1h-5zM503 273h5v1h-5zM486 289h2v1h-2zM482 292h2v1h-2zM477 296h2v1h-2zM425 302h3v1h-3zM422 303h3v1h-3zM430 303h2v1h-2zM418 304h4v1h-4zM432 304h2v1h-2zM468 304h2v1h-2zM415 305h3v1h-3zM434 305h2v1h-2zM450 306h9v1h-9zM437 307h2v1h-2zM444 307h6v1h-6zM459 307h7v1h-7zM439 308h5v1h-5zM402 318h2v1h-2zM399 319h3v1h-3zM396 320h3v1h-3zM392 321h4v1h-4zM390 322h2v1h-2zM387 324h2v1h-2zM383 327h2v1h-2zM379 330h2v1h-2zM353 331h2v1h-2zM355 332h2v1h-2zM376 332h2v1h-2zM358 334h2v1h-2zM373 334h2v1h-2zM361 336h2v1h-2zM370 336h2v1h-2zM364 338h2v1h-2zM367 338h2v1h-2zM33 194h1v2h-1zM34 193h1v1h-1zM35 192h1v1h-1zM36 191h1v1h-1zM37 190h1v1h-1zM38 189h1v1h-1zM39 188h1v1h-1zM40 186h1v2h-1zM41 185h1v1h-1zM42 184h1v1h-1zM43 183h1v1h-1zM44 182h1v1h-1zM45 181h1v1h-1zM46 180h1v1h-1zM47 179h1v1h-1zM48 178h1v1h-1zM49 177h1v1h-1zM50 176h1v1h-1zM51 175h1v1h-1zM52 174h1v1h-1zM53 173h1v1h-1zM54 172h1v1h-1zM55 171h1v1h-1zM56 170h1v1h-1zM65 165h1v1h-1zM70 161h1v2h-1zM71 160h1v1h-1zM72 158h1v2h-1zM73 157h1v1h-1zM74 155h1v2h-1zM75 154h1v1h-1zM76 152h1v2h-1zM77 151h1v1h-1zM78 149h1v2h-1zM79 148h1v1h-1zM80 146h1v2h-1zM81 144h1v2h-1zM82 143h1v1h-1zM83 142h1v1h-1zM84 140h1v2h-1zM85 139h1v1h-1zM86 137h1v2h-1zM87 136h1v1h-1zM88 134h1v2h-1zM89 133h1v1h-1zM90 131h1v2h-1zM91 130h1v1h-1zM92 128h1v2h-1zM93 127h1v1h-1zM104 121h1v1h-1zM143 120h1v1h-1zM144 121h1v2h-1zM145 123h1v2h-1zM146 125h1v2h-1zM147 127h1v2h-1zM148 129h1v2h-1zM149 131h1v2h-1zM150 133h1v2h-1zM151 135h1v2h-1zM152 137h1v2h-1zM153 139h1v1h-1zM154 140h1v2h-1zM155 142h1v2h-1zM158 145h1v1h-1zM161 147h1v1h-1zM164 149h1v1h-1zM167 151h1v1h-1zM180 155h1v1h-1zM193 150h1v1h-1zM194 149h1v1h-1zM197 147h1v1h-1zM198 146h1v1h-1zM199 145h1v1h-1zM200 144h1v1h-1zM201 143h1v1h-1zM202 142h1v1h-1zM203 141h1v1h-1zM204 140h1v1h-1zM205 139h1v1h-1zM206 137h1v2h-1zM207 135h1v2h-1zM208 133h1v2h-1zM209 132h1v1h-1zM210 130h1v2h-1zM211 128h1v2h-1zM212 126h1v2h-1zM213 124h1v2h-1zM214 122h1v2h-1zM215 120h1v2h-1zM216 118h1v2h-1zM245 122h1v1h-1zM254 127h1v1h-1zM255 128h1v2h-1zM256 130h1v1h-1zM257 131h1v2h-1zM258 133h1v2h-1zM259 135h1v1h-1zM260 136h1v2h-1zM261 138h1v2h-1zM262 140h1v1h-1zM263 141h1v2h-1zM264 143h1v2h-1zM265 145h1v1h-1zM266 146h1v2h-1zM267 148h1v2h-1zM268 150h1v2h-1zM269 152h1v1h-1zM270 153h1v2h-1zM271 155h1v2h-1zM272 157h1v2h-1zM273 159h1v1h-1zM274 160h1v2h-1zM275 162h1v2h-1zM276 164h1v2h-1zM277 166h1v2h-1zM278 168h1v1h-1zM279 169h1v2h-1zM280 171h1v2h-1zM281 173h1v2h-1zM282 175h1v2h-1zM283 177h1v2h-1zM284 179h1v2h-1zM285 181h1v1h-1zM286 182h1v2h-1zM287 184h1v2h-1zM288 186h1v2h-1zM289 188h1v2h-1zM290 190h1v2h-1zM291 192h1v2h-1zM292 194h1v2h-1zM293 196h1v3h-1zM294 199h1v2h-1zM295 201h1v3h-1zM296 204h1v2h-1zM297 206h1v3h-1zM298 209h1v2h-1zM299 211h1v2h-1zM300 213h1v3h-1zM301 216h1v2h-1zM302 218h1v3h-1zM303 221h1v2h-1zM304 223h1v3h-1zM305 226h1v3h-1zM306 229h1v3h-1zM307 232h1v3h-1zM308 235h1v2h-1zM309 237h1v3h-1zM310 240h1v3h-1zM311 243h1v3h-1zM312 246h1v3h-1zM313 249h1v3h-1zM314 252h1v3h-1zM315 255h1v3h-1zM316 258h1v3h-1zM317 261h1v2h-1zM318 263h1v2h-1zM319 265h1v3h-1zM320 268h1v2h-1zM321 270h1v3h-1zM322 273h1v2h-1zM323 275h1v3h-1zM324 278h1v2h-1zM325 280h1v3h-1zM326 283h1v2h-1zM327 285h1v3h-1zM328 288h1v2h-1zM329 290h1v2h-1zM330 292h1v2h-1zM331 294h1v2h-1zM332 296h1v2h-1zM333 298h1v1h-1zM334 299h1v2h-1zM335 301h1v2h-1zM336 303h1v1h-1zM337 304h1v2h-1zM338 306h1v2h-1zM339 308h1v2h-1zM340 310h1v1h-1zM341 311h1v2h-1zM342 313h1v2h-1zM343 315h1v1h-1zM344 316h1v2h-1zM345 318h1v1h-1zM346 319h1v2h-1zM347 321h1v1h-1zM348 322h1v2h-1zM349 324h1v2h-1zM350 326h1v1h-1zM351 327h1v2h-1zM352 329h1v1h-1zM353 330h1v1h-1zM357 333h1v1h-1zM360 335h1v1h-1zM363 337h1v1h-1zM366 339h1v1h-1zM369 337h1v1h-1zM372 335h1v1h-1zM375 333h1v1h-1zM378 331h1v1h-1zM381 329h1v1h-1zM382 328h1v1h-1zM385 326h1v1h-1zM386 325h1v1h-1zM389 323h1v1h-1zM404 317h1v1h-1zM405 316h1v1h-1zM406 315h1v1h-1zM407 314h1v1h-1zM408 313h1v1h-1zM409 312h1v1h-1zM410 311h1v1h-1zM411 310h1v1h-1zM412 309h1v1h-1zM413 308h1v1h-1zM414 306h1v2h-1zM428 301h1v1h-1zM429 302h1v1h-1zM436 306h1v1h-1zM466 306h1v1h-1zM467 305h1v1h-1zM470 303h1v1h-1zM471 302h1v1h-1zM472 301h1v1h-1zM473 300h1v1h-1zM474 299h1v1h-1zM475 298h1v1h-1zM476 297h1v1h-1zM479 295h1v1h-1zM480 294h1v1h-1zM481 293h1v1h-1zM484 291h1v1h-1zM485 290h1v1h-1zM488 288h1v1h-1zM489 287h1v1h-1zM490 286h1v1h-1zM491 285h1v1h-1zM492 284h1v1h-1zM493 283h1v1h-1zM494 282h1v1h-1zM495 281h1v1h-1zM496 280h1v1h-1zM497 279h1v1h-1zM498 278h1v1h-1zM499 277h1v1h-1zM500 276h1v1h-1zM501 275h1v1h-1zM502 274h1v1h-1zM570 266h1v1h-1zM577 262h1v1h-1zM578 261h1v1h-1zM581 259h1v1h-1zM582 258h1v1h-1zM583 257h1v1h-1zM584 256h1v1h-1zM587 254h1v1h-1zM626 245h1v1h-1zM675 261h1v1h-1zM688 257h1v1h-1zM689 256h1v1h-1zM690 255h1v1h-1zM693 253h1v1h-1zM694 252h1v1h-1zM697 250h1v1h-1zM698 249h1v1h-1zM699 248h1v1h-1zM702 246h1v1h-1zM705 244h1v1h-1zM708 242h1v1h-1zM711 240h1v1h-1zM712 239h1v1h-1zM713 238h1v1h-1zM714 237h1v1h-1zM715 236h1v1h-1zM718 234h1v1h-1zM719 233h1v1h-1zM720 232h1v1h-1zM721 231h1v1h-1zM722 230h1v1h-1zM723 229h1v1h-1zM724 228h1v1h-1zM725 227h1v1h-1zM726 226h1v1h-1zM727 225h1v1h-1zM728 224h1v1h-1zM729 223h1v1h-1zM732 221h1v1h-1zM733 220h1v1h-1zM734 219h1v1h-1zM735 218h1v1h-1zM736 217h1v1h-1zM839 219h1v1h-1zM842 221h1v1h-1zM845 223h1v1h-1zM848 225h1v1h-1zM851 227h1v1h-1zM854 229h1v1h-1zM857 231h1v1h-1zM860 233h1v1h-1zM865 236h1v1h-1zM868 238h1v1h-1zM873 241h1v1h-1zM878 244h1v1h-1zM910 245h1v1h-1z" fill="#dc143c"/>
<path d="M201 130h18v1h-18zM197 131h4v1h-4zM219 131h2v1h-2zM143 132h2v1h-2zM193 132h4v1h-4zM221 132h2v1h-2zM141 133h2v1h-2zM145 133h4v1h-4zM188 133h5v1h-5zM223 133h2v1h-2zM139 134h2v1h-2zM149 134h5v1h-5zM184 134h4v1h-4zM225 134h2v1h-2zM137 135h2v1h-2zM154 135h10v1h-10zM175 135h9v1h-9zM227 135h2v1h-2zM135 136h2v1h-2zM164 136h11v1h-11zM229 136h3v1h-3zM133 137h2v1h-2zM232 137h10v1h-10zM131 138h2v1h-2zM242 138h9v1h-9zM128 139h3v1h-3zM251 139h5v1h-5zM125 140h3v1h-3zM256 140h3v1h-3zM122 141h3v1h-3zM259 141h2v1h-2zM120 142h2v1h-2zM261 142h3v1h-3zM118 143h2v1h-2zM264 143h2v1h-2zM276 143h4v1h-4zM116 144h2v1h-2zM266 144h10v1h-10zM113 146h2v1h-2zM110 148h2v1h-2zM107 150h2v1h-2zM103 153h2v1h-2zM99 156h2v1h-2zM94 160h2v1h-2zM64 189h2v1h-2zM810 213h27v1h-27zM806 214h4v1h-4zM837 214h2v1h-2zM802 215h4v1h-4zM839 215h2v1h-2zM798 216h4v1h-4zM841 216h2v1h-2zM795 217h3v1h-3zM843 217h2v1h-2zM791 218h4v1h-4zM845 218h2v1h-2zM13 219h2v1h-2zM788 219h3v1h-3zM847 219h3v1h-3zM785 220h3v1h-3zM850 220h2v1h-2zM782 221h3v1h-3zM852 221h2v1h-2zM779 222h3v1h-3zM854 222h3v1h-3zM776 223h3v1h-3zM857 223h2v1h-2zM773 224h3v1h-3zM859 224h2v1h-2zM20 225h3v1h-3zM770 225h3v1h-3zM861 225h4v1h-4zM23 226h3v1h-3zM767 226h3v1h-3zM865 226h3v1h-3zM26 227h3v1h-3zM764 227h3v1h-3zM868 227h4v1h-4zM29 228h4v1h-4zM762 228h2v1h-2zM872 228h3v1h-3zM760 229h2v1h-2zM875 229h3v1h-3zM758 230h2v1h-2zM878 230h2v1h-2zM756 231h2v1h-2zM880 231h3v1h-3zM754 232h2v1h-2zM883 232h3v1h-3zM752 233h2v1h-2zM886 233h8v1h-8zM750 234h2v1h-2zM894 234h8v1h-8zM747 235h3v1h-3zM902 235h9v1h-9zM744 236h3v1h-3zM741 237h3v1h-3zM738 238h3v1h-3zM734 239h4v1h-4zM731 240h3v1h-3zM728 241h3v1h-3zM725 242h3v1h-3zM722 243h3v1h-3zM720 244h2v1h-2zM717 245h3v1h-3zM714 246h3v1h-3zM710 247h4v1h-4zM701 248h9v1h-9zM696 249h5v1h-5zM692 250h4v1h-4zM687 251h5v1h-5zM683 252h4v1h-4zM679 253h4v1h-4zM648 254h8v1h-8zM674 254h5v1h-5zM643 255h5v1h-5zM656 255h18v1h-18zM636 256h7v1h-7zM622 257h14v1h-14zM611 258h11v1h-11zM606 259h5v1h-5zM593 260h13v1h-13zM587 261h6v1h-6zM585 262h2v1h-2zM583 263h2v1h-2zM581 264h2v1h-2zM578 266h2v1h-2zM575 267h3v1h-3zM573 268h2v1h-2zM570 269h3v1h-3zM567 270h3v1h-3zM564 271h3v1h-3zM562 272h2v1h-2zM560 273h2v1h-2zM558 274h2v1h-2zM556 275h2v1h-2zM554 276h2v1h-2zM552 277h2v1h-2zM549 278h3v1h-3zM546 279h3v1h-3zM544 280h2v1h-2zM541 281h3v1h-3zM538 282h3v1h-3zM536 283h2v1h-2zM534 284h2v1h-2zM532 285h2v1h-2zM530 286h2v1h-2zM528 287h2v1h-2zM516 288h12v1h-12zM510 289h6v1h-6zM505 290h5v1h-5zM500 291h5v1h-5zM496 292h4v1h-4zM492 293h4v1h-4zM489 294h3v1h-3zM487 295h2v1h-2zM485 296h2v1h-2zM482 298h2v1h-2zM480 299h2v1h-2zM478 300h2v1h-2zM390 307h2v1h-2zM392 308h2v1h-2zM395 310h2v1h-2zM398 312h2v1h-2zM457 313h9v1h-9zM401 314h2v1h-2zM451 314h6v1h-6zM403 315h3v1h-3zM449 315h2v1h-2zM406 316h4v1h-4zM447 316h2v1h-2zM410 317h4v1h-4zM445 317h2v1h-2zM414 318h5v1h-5zM443 318h2v1h-2zM419 319h6v1h-6zM441 319h2v1h-2zM425 320h16v1h-16zM7 213h1v1h-1zM8 214h1v1h-1zM9 215h1v1h-1zM10 216h1v1h-1zM11 217h1v1h-1zM12 218h1v1h-1zM15 220h1v1h-1zM16 221h1v1h-1zM17 222h1v1h-1zM18 223h1v1h-1zM19 224h1v1h-1zM32 229h1v1h-1zM33 227h1v1h-1zM34 225h1v2h-1zM35 224h1v1h-1zM36 223h1v1h-1zM37 221h1v2h-1zM38 220h1v1h-1zM39 218h1v2h-1zM40 217h1v1h-1zM41 215h1v2h-1zM42 214h1v1h-1zM43 212h1v2h-1zM44 211h1v1h-1zM45 210h1v1h-1zM46 209h1v1h-1zM47 207h1v2h-1zM48 206h1v1h-1zM49 205h1v1h-1zM50 204h1v1h-1zM51 203h1v1h-1zM52 201h1v2h-1zM53 200h1v1h-1zM54 199h1v1h-1zM55 198h1v1h-1zM56 197h1v1h-1zM57 196h1v1h-1zM58 195h1v1h-1zM59 194h1v1h-1zM60 193h1v1h-1zM61 192h1v1h-1zM62 191h1v1h-1zM63 190h1v1h-1zM66 188h1v1h-1zM67 187h1v1h-1zM68 186h1v1h-1zM69 185h1v1h-1zM70 184h1v1h-1zM71 183h1v1h-1zM72 182h1v1h-1zM73 181h1v1h-1zM74 180h1v1h-1zM75 179h1v1h-1zM76 178h1v1h-1zM77 177h1v1h-1zM78 176h1v1h-1zM79 175h1v1h-1zM80 174h1v1h-1zM81 173h1v1h-1zM82 172h1v1h-1zM83 171h1v1h-1zM84 170h1v1h-1zM85 169h1v1h-1zM86 168h1v1h-1zM87 167h1v1h-1zM88 166h1v1h-1zM89 165h1v1h-1zM90 164h1v1h-1zM91 163h1v1h-1zM92 162h1v1h-1zM93 161h1v1h-1zM96 159h1v1h-1zM97 158h1v1h-1zM98 157h1v1h-1zM101 155h1v1h-1zM102 154h1v1h-1zM105 152h1v1h-1zM106 151h1v1h-1zM109 149h1v1h-1zM112 147h1v1h-1zM115 145h1v1h-1zM280 144h1v2h-1zM281 146h1v1h-1zM282 147h1v1h-1zM283 148h1v1h-1zM284 149h1v1h-1zM285 150h1v1h-1zM286 151h1v1h-1zM287 152h1v1h-1zM288 153h1v1h-1zM289 154h1v1h-1zM290 155h1v2h-1zM291 157h1v1h-1zM292 158h1v1h-1zM293 159h1v1h-1zM294 160h1v1h-1zM295 161h1v1h-1zM296 162h1v2h-1zM297 164h1v1h-1zM298 165h1v1h-1zM299 166h1v1h-1zM300 167h1v1h-1zM301 168h1v2h-1zM302 170h1v1h-1zM303 171h1v1h-1zM304 172h1v1h-1zM305 173h1v2h-1zM306 175h1v2h-1zM307 177h1v2h-1zM308 179h1v1h-1zM309 180h1v2h-1zM310 182h1v2h-1zM311 184h1v2h-1zM312 186h1v1h-1zM313 187h1v2h-1zM314 189h1v2h-1zM315 191h1v1h-1zM316 192h1v2h-1zM317 194h1v2h-1zM318 196h1v2h-1zM319 198h1v3h-1zM320 201h1v2h-1zM321 203h1v2h-1zM322 205h1v2h-1zM323 207h1v2h-1zM324 209h1v2h-1zM325 211h1v2h-1zM326 213h1v2h-1zM327 215h1v2h-1zM328 217h1v2h-1zM329 219h1v2h-1zM330 221h1v2h-1zM331 223h1v2h-1zM332 225h1v1h-1zM333 226h1v2h-1zM334 228h1v2h-1zM335 230h1v2h-1zM336 232h1v1h-1zM337 233h1v2h-1zM338 235h1v2h-1zM339 237h1v2h-1zM340 239h1v1h-1zM341 240h1v2h-1zM342 242h1v2h-1zM343 244h1v2h-1zM344 246h1v1h-1zM345 247h1v2h-1zM346 249h1v2h-1zM347 251h1v1h-1zM348 252h1v2h-1zM349 254h1v2h-1zM350 256h1v2h-1zM351 258h1v1h-1zM352 259h1v2h-1zM353 261h1v2h-1zM354 263h1v1h-1zM355 264h1v2h-1zM356 266h1v1h-1zM357 267h1v2h-1zM358 269h1v1h-1zM359 270h1v2h-1zM360 272h1v1h-1zM361 273h1v2h-1zM362 275h1v1h-1zM363 276h1v2h-1zM364 278h1v2h-1zM365 280h1v1h-1zM366 281h1v1h-1zM367 282h1v2h-1zM368 284h1v1h-1zM369 285h1v1h-1zM370 286h1v1h-1zM371 287h1v1h-1zM372 288h1v1h-1zM373 289h1v1h-1zM374 290h1v1h-1zM375 291h1v2h-1zM376 293h1v1h-1zM377 294h1v1h-1zM378 295h1v1h-1zM379 296h1v1h-1zM380 297h1v1h-1zM381 298h1v1h-1zM382 299h1v1h-1zM383 300h1v1h-1zM384 301h1v1h-1zM385 302h1v1h-1zM386 303h1v1h-1zM387 304h1v1h-1zM388 305h1v1h-1zM389 306h1v1h-1zM394 309h1v1h-1zM397 311h1v1h-1zM400 313h1v1h-1zM466 312h1v1h-1zM467 311h1v1h-1zM468 310h1v1h-1zM469 309h1v1h-1zM470 308h1v1h-1zM471 307h1v1h-1zM472 306h1v1h-1zM473 305h1v1h-1zM474 304h1v1h-1zM475 303h1v1h-1zM476 302h1v1h-1zM477 301h1v1h-1zM484 297h1v1h-1zM580 265h1v1h-1z" fill="#3a78a8"/>
<path d="M258 138h15v1h-15zM248 139h10v1h-10zM273 139h7v1h-7zM8 140h2v1h-2zM241 140h7v1h-7zM280 140h2v1h-2zM10 141h2v1h-2zM238 141h3v1h-3zM282 141h2v1h-2zM12 142h2v1h-2zM235 142h3v1h-3zM14 143h2v1h-2zM231 143h4v1h-4zM285 143h2v1h-2zM16 144h2v1h-2zM225 144h6v1h-6zM287 144h2v1h-2zM18 145h2v1h-2zM218 145h7v1h-7zM20 146h2v1h-2zM216 146h2v1h-2zM290 146h2v1h-2zM22 147h2v1h-2zM214 147h2v1h-2zM292 147h2v1h-2zM24 148h2v1h-2zM211 148h3v1h-3zM26 149h2v1h-2zM209 149h2v1h-2zM295 149h2v1h-2zM28 150h2v1h-2zM207 150h2v1h-2zM297 150h2v1h-2zM30 151h2v1h-2zM205 151h2v1h-2zM299 151h2v1h-2zM32 152h3v1h-3zM35 153h3v1h-3zM202 153h2v1h-2zM302 153h2v1h-2zM38 154h3v1h-3zM200 154h2v1h-2zM304 154h2v1h-2zM41 155h3v1h-3zM198 155h2v1h-2zM44 156h2v1h-2zM46 157h3v1h-3zM195 157h2v1h-2zM308 157h2v1h-2zM49 158h3v1h-3zM193 158h2v1h-2zM52 159h2v1h-2zM191 159h2v1h-2zM54 160h3v1h-3zM312 160h2v1h-2zM57 161h2v1h-2zM188 161h2v1h-2zM59 162h3v1h-3zM186 162h2v1h-2zM62 163h3v1h-3zM65 164h2v1h-2zM183 164h2v1h-2zM67 165h4v1h-4zM181 165h2v1h-2zM318 165h2v1h-2zM71 166h5v1h-5zM76 167h6v1h-6zM178 167h2v1h-2zM82 168h10v1h-10zM176 168h2v1h-2zM92 169h8v1h-8zM100 170h7v1h-7zM173 170h2v1h-2zM107 171h4v1h-4zM111 172h4v1h-4zM170 172h2v1h-2zM115 173h5v1h-5zM120 174h5v1h-5zM167 174h2v1h-2zM125 175h6v1h-6zM165 175h2v1h-2zM131 176h4v1h-4zM330 176h2v1h-2zM135 177h5v1h-5zM162 177h2v1h-2zM140 178h5v1h-5zM145 179h3v1h-3zM159 179h2v1h-2zM148 180h3v1h-3zM157 180h2v1h-2zM151 181h4v1h-4zM339 184h2v1h-2zM354 200h2v1h-2zM360 205h2v1h-2zM365 209h2v1h-2zM368 211h2v1h-2zM371 213h2v1h-2zM373 214h2v1h-2zM376 216h2v1h-2zM379 218h2v1h-2zM382 220h2v1h-2zM385 222h2v1h-2zM389 225h2v1h-2zM391 226h4v1h-4zM395 227h3v1h-3zM398 228h3v1h-3zM903 228h8v1h-8zM401 229h3v1h-3zM894 229h9v1h-9zM404 230h2v1h-2zM829 230h16v1h-16zM883 230h11v1h-11zM818 231h11v1h-11zM845 231h15v1h-15zM865 231h18v1h-18zM811 232h7v1h-7zM860 232h5v1h-5zM408 233h2v1h-2zM807 233h4v1h-4zM803 234h4v1h-4zM411 235h2v1h-2zM798 235h5v1h-5zM792 236h6v1h-6zM414 237h2v1h-2zM787 237h5v1h-5zM779 238h8v1h-8zM417 239h2v1h-2zM773 239h6v1h-6zM769 240h4v1h-4zM420 241h2v1h-2zM765 241h4v1h-4zM762 242h3v1h-3zM423 243h2v1h-2zM758 243h4v1h-4zM755 244h3v1h-3zM426 245h2v1h-2zM751 245h4v1h-4zM747 246h4v1h-4zM742 247h5v1h-5zM737 248h5v1h-5zM431 249h2v1h-2zM733 249h4v1h-4zM729 250h4v1h-4zM724 251h5v1h-5zM719 252h5v1h-5zM715 253h4v1h-4zM711 254h4v1h-4zM438 255h2v1h-2zM708 255h3v1h-3zM705 256h3v1h-3zM702 257h3v1h-3zM698 258h4v1h-4zM695 259h3v1h-3zM691 260h4v1h-4zM687 261h4v1h-4zM446 262h2v1h-2zM685 262h2v1h-2zM682 263h3v1h-3zM679 264h3v1h-3zM677 265h2v1h-2zM673 266h4v1h-4zM669 267h4v1h-4zM453 268h2v1h-2zM664 268h5v1h-5zM658 269h6v1h-6zM653 270h5v1h-5zM457 271h2v1h-2zM646 271h7v1h-7zM638 272h8v1h-8zM631 273h7v1h-7zM461 274h2v1h-2zM624 274h7v1h-7zM618 275h6v1h-6zM613 276h5v1h-5zM465 277h3v1h-3zM610 277h3v1h-3zM468 278h2v1h-2zM607 278h3v1h-3zM470 279h3v1h-3zM604 279h3v1h-3zM473 280h3v1h-3zM602 280h2v1h-2zM476 281h2v1h-2zM600 281h2v1h-2zM478 282h2v1h-2zM597 282h3v1h-3zM480 283h2v1h-2zM595 283h2v1h-2zM482 284h2v1h-2zM593 284h2v1h-2zM591 285h2v1h-2zM485 286h2v1h-2zM589 286h2v1h-2zM487 287h2v1h-2zM586 287h3v1h-3zM489 288h2v1h-2zM583 288h3v1h-3zM491 289h3v1h-3zM580 289h3v1h-3zM494 290h2v1h-2zM577 290h3v1h-3zM496 291h3v1h-3zM574 291h3v1h-3zM499 292h2v1h-2zM572 292h2v1h-2zM501 293h3v1h-3zM569 293h3v1h-3zM504 294h3v1h-3zM567 294h2v1h-2zM507 295h2v1h-2zM565 295h2v1h-2zM509 296h3v1h-3zM561 296h4v1h-4zM512 297h2v1h-2zM557 297h4v1h-4zM514 298h4v1h-4zM553 298h4v1h-4zM518 299h3v1h-3zM545 299h8v1h-8zM521 300h4v1h-4zM535 300h10v1h-10zM525 301h10v1h-10zM7 139h1v1h-1zM155 182h1v1h-1zM156 181h1v1h-1zM161 178h1v1h-1zM164 176h1v1h-1zM169 173h1v1h-1zM172 171h1v1h-1zM175 169h1v1h-1zM180 166h1v1h-1zM185 163h1v1h-1zM190 160h1v1h-1zM197 156h1v1h-1zM204 152h1v1h-1zM284 142h1v1h-1zM289 145h1v1h-1zM294 148h1v1h-1zM301 152h1v1h-1zM306 155h1v1h-1zM307 156h1v1h-1zM310 158h1v1h-1zM311 159h1v1h-1zM314 161h1v1h-1zM315 162h1v1h-1zM316 163h1v1h-1zM317 164h1v1h-1zM320 166h1v1h-1zM321 167h1v1h-1zM322 168h1v1h-1zM323 169h1v1h-1zM324 170h1v1h-1zM325 171h1v1h-1zM326 172h1v1h-1zM327 173h1v1h-1zM328 174h1v1h-1zM329 175h1v1h-1zM332 177h1v1h-1zM333 178h1v1h-1zM334 179h1v1h-1zM335 180h1v1h-1zM336 181h1v1h-1zM337 182h1v1h-1zM338 183h1v1h-1zM341 185h1v1h-1zM342 186h1v2h-1zM343 188h1v1h-1zM344 189h1v1h-1zM345 190h1v1h-1zM346 191h1v1h-1zM347 192h1v1h-1zM348 193h1v1h-1zM349 194h1v1h-1zM350 195h1v2h-1zM351 197h1v1h-1zM352 198h1v1h-1zM353 199h1v1h-1zM356 201h1v1h-1zM357 202h1v1h-1zM358 203h1v1h-1zM359 204h1v1h-1zM362 206h1v1h-1zM363 207h1v1h-1zM364 208h1v1h-1zM367 210h1v1h-1zM370 212h1v1h-1zM375 215h1v1h-1zM378 217h1v1h-1zM381 219h1v1h-1zM384 221h1v1h-1zM387 223h1v1h-1zM388 224h1v1h-1zM406 231h1v1h-1zM407 232h1v1h-1zM410 234h1v1h-1zM413 236h1v1h-1zM416 238h1v1h-1zM419 240h1v1h-1zM422 242h1v1h-1zM425 244h1v1h-1zM428 246h1v1h-1zM429 247h1v1h-1zM430 248h1v1h-1zM433 250h1v1h-1zM434 251h1v1h-1zM435 252h1v1h-1zM436 253h1v1h-1zM437 254h1v1h-1zM440 256h1v1h-1zM441 257h1v1h-1zM442 258h1v1h-1zM443 259h1v1h-1zM444 260h1v1h-1zM445 261h1v1h-1zM448 263h1v1h-1zM449 264h1v1h-1zM450 265h1v1h-1zM451 266h1v1h-1zM452 267h1v1h-1zM455 269h1v1h-1zM456 270h1v1h-1zM459 272h1v1h-1zM460 273h1v1h-1zM463 275h1v1h-1zM464 276h1v1h-1zM484 285h1v1h-1z" fill="#0000ff"/>
<rect x="909" y="234" width="2" height="19" fill="#ff0000"/>
<rect x="905" y="235" width="10" height="15" fill="#ff0000"/>
<rect x="907" y="237" width="6" height="11" fill="#fff"/>
<path d="M205 74h2v1h-2zM207 75h5v1h-5zM212 76h5v1h-5zM217 77h3v1h-3z" fill="#2396be"/>
<path d="M208 71h2v1h-2zM205 74h1v1h-1zM206 73h1v1h-1zM207 72h1v1h-1z" fill="#2396be"/>
<path d="M205 74h1v1h-1zM206 75h1v1h-1zM207 76h1v1h-1zM208 77h1v1h-1z" fill="#2396be"/>
<text x="219.95 226.90 233.85 240.81 247.79 251.24 258.19" y="84.20" font-size="12.7" fill="#d80f2a">3074.26</text>
<path d="M329 386h15v1h-15z" fill="#2396be"/>
<path d="M332 383h2v1h-2zM329 386h1v1h-1zM330 385h1v1h-1zM331 384h1v1h-1z" fill="#2396be"/>
<path d="M329 386h1v1h-1zM330 387h1v1h-1zM331 388h1v1h-1zM332 389h1v1h-1zM333 390h1v1h-1z" fill="#2396be"/>
<text x="343.86 350.85 357.83 364.82 371.82 375.29 382.28" y="391.20" font-size="12.7" fill="#1e8c1e">2646.80</text>
<ellipse cx="893.4" cy="243.8" rx="28.1" ry="19.1" fill="none" stroke="#1e96fa" stroke-width="3"/>
<ellipse cx="887.8" cy="452.7" rx="31.7" ry="21.7" fill="none" stroke="#1e96fa" stroke-width="3"/>
<text class="cj" x="851.60 872.90 894.20 915.50" y="318.40" font-size="21.3" fill="#2a9cf5">缩量震荡</text>
<g>
<rect x="3.5" y="436.5" width="7" height="33" fill="#fff" stroke="#ff0000" stroke-width="1"/>
<rect x="15" y="432" width="8" height="38" fill="#008c00"/>
<rect x="28.5" y="435.5" width="7" height="34" fill="#fff" stroke="#ff0000" stroke-width="1"/>
<rect x="40.5" y="429.5" width="7" height="40" fill="#fff" stroke="#ff0000" stroke-width="1"/>
<rect x="52.5" y="428.5" width="7" height="41" fill="#fff" stroke="#ff0000" stroke-width="1"/>
<rect x="65" y="427" width="8" height="43" fill="#008c00"/>
<rect x="77.5" y="424.5" width="7" height="45" fill="#fff" stroke="#ff0000" stroke-width="1"/>
<rect x="89.5" y="420.5" width="7" height="49" fill="#fff" stroke="#ff0000" stroke-width="1"/>
<rect x="102" y="419" width="8" height="51" fill="#008c00"/>
<rect x="114" y="413" width="8" height="57" fill="#008c00"/>
<rect x="127" y="414" width="8" height="56" fill="#008c00"/>
<rect x="139.5" y="426.5" width="7" height="43" fill="#fff" stroke="#ff0000" stroke-width="1"/>
<rect x="151" y="421" width="8" height="49" fill="#008c00"/>
<rect x="164.5" y="425.5" width="7" height="44" fill="#fff" stroke="#ff0000" stroke-width="1"/>
<rect x="176.5" y="420.5" width="7" height="49" fill="#fff" stroke="#ff0000" stroke-width="1"/>
<rect x="188.5" y="426.5" width="7" height="43" fill="#fff" stroke="#ff0000" stroke-width="1"/>
<rect x="201.5" y="416.5" width="7" height="53" fill="#fff" stroke="#ff0000" stroke-width="1"/>
<rect x="213" y="428" width="8" height="42" fill="#008c00"/>
<rect x="226" y="421" width="8" height="49" fill="#008c00"/>
<rect x="238.5" y="422.5" width="7" height="47" fill="#fff" stroke="#ff0000" stroke-width="1"/>
<rect x="250" y="427" width="8" height="43" fill="#008c00"/>
<rect x="263" y="433" width="8" height="37" fill="#008c00"/>
<rect x="275" y="426" width="8" height="44" fill="#008c00"/>
<rect x="287" y="428" width="8" height="42" fill="#008c00"/>
<rect x="300" y="434" width="8" height="36" fill="#008c00"/>
<rect x="312" y="434" width="8" height="36" fill="#008c00"/>
<rect x="325" y="433" width="8" height="37" fill="#008c00"/>
<rect x="337.5" y="438.5" width="7" height="31" fill="#fff" stroke="#ff0000" stroke-width="1"/>
<rect x="349" y="440" width="8" height="30" fill="#008c00"/>
<rect x="362.5" y="439.5" width="7" height="30" fill="#fff" stroke="#ff0000" stroke-width="1"/>
<rect x="374.5" y="437.5" width="7" height="32" fill="#fff" stroke="#ff0000" stroke-width="1"/>
<rect x="386" y="442" width="8" height="28" fill="#008c00"/>
<rect x="399.5" y="441.5" width="7" height="28" fill="#fff" stroke="#ff0000" stroke-width="1"/>
<rect x="411" y="442" width="8" height="28" fill="#008c00"/>
<rect x="424.5" y="445.5" width="7" height="24" fill="#fff" stroke="#ff0000" stroke-width="1"/>
<rect x="436" y="444" width="8" height="26" fill="#008c00"/>
<rect x="448.5" y="444.5" width="7" height="25" fill="#fff" stroke="#ff0000" stroke-width="1"/>
<rect x="461" y="446" width="8" height="24" fill="#008c00"/>
<rect x="473.5" y="438.5" width="7" height="31" fill="#fff" stroke="#ff0000" stroke-width="1"/>
<rect x="485" y="441" width="8" height="29" fill="#008c00"/>
<rect x="498.5" y="442.5" width="7" height="27" fill="#fff" stroke="#ff0000" stroke-width="1"/>
<rect x="510" y="442" width="8" height="28" fill="#008c00"/>
<rect x="523" y="449" width="8" height="21" fill="#008c00"/>
<rect x="535.5" y="445.5" width="7" height="24" fill="#fff" stroke="#ff0000" stroke-width="1"/>
<rect x="547" y="444" width="8" height="26" fill="#008c00"/>
<rect x="560.5" y="445.5" width="7" height="24" fill="#fff" stroke="#ff0000" stroke-width="1"/>
<rect x="572.5" y="438.5" width="7" height="31" fill="#fff" stroke="#ff0000" stroke-width="1"/>
<rect x="584.5" y="444.5" width="7" height="25" fill="#fff" stroke="#ff0000" stroke-width="1"/>
<rect x="597" y="442" width="8" height="28" fill="#008c00"/>
<rect x="609.5" y="444.5" width="7" height="25" fill="#fff" stroke="#ff0000" stroke-width="1"/>
<rect x="622" y="440" width="8" height="30" fill="#008c00"/>
<rect x="634" y="442" width="8" height="28" fill="#008c00"/>
<rect x="646.5" y="444.5" width="7" height="25" fill="#fff" stroke="#ff0000" stroke-width="1"/>
<rect x="659" y="439" width="8" height="31" fill="#008c00"/>
<rect x="671.5" y="445.5" width="7" height="24" fill="#fff" stroke="#ff0000" stroke-width="1"/>
<rect x="683.5" y="439.5" width="7" height="30" fill="#fff" stroke="#ff0000" stroke-width="1"/>
<rect x="696.5" y="436.5" width="7" height="33" fill="#fff" stroke="#ff0000" stroke-width="1"/>
<rect x="708" y="440" width="8" height="30" fill="#008c00"/>
<rect x="721.5" y="439.5" width="7" height="30" fill="#fff" stroke="#ff0000" stroke-width="1"/>
<rect x="733" y="439" width="8" height="31" fill="#008c00"/>
<rect x="745" y="443" width="8" height="27" fill="#008c00"/>
<rect x="758.5" y="445.5" width="7" height="24" fill="#fff" stroke="#ff0000" stroke-width="1"/>
<rect x="770" y="443" width="8" height="27" fill="#008c00"/>
<rect x="782" y="442" width="8" height="28" fill="#008c00"/>
<rect x="795.5" y="437.5" width="7" height="32" fill="#fff" stroke="#ff0000" stroke-width="1"/>
<rect x="807.5" y="441.5" width="7" height="28" fill="#fff" stroke="#ff0000" stroke-width="1"/>
<rect x="820" y="439" width="8" height="31" fill="#008c00"/>
<rect x="832" y="442" width="8" height="28" fill="#008c00"/>
<rect x="844" y="442" width="8" height="28" fill="#008c00"/>
<rect x="857.5" y="447.5" width="7" height="22" fill="#fff" stroke="#ff0000" stroke-width="1"/>
<rect x="869.5" y="446.5" width="7" height="23" fill="#fff" stroke="#ff0000" stroke-width="1"/>
<rect x="881" y="444" width="8" height="26" fill="#008c00"/>
<rect x="894.5" y="443.5" width="7" height="26" fill="#fff" stroke="#ff0000" stroke-width="1"/>
<rect x="906.5" y="444.5" width="7" height="25" fill="#fff" stroke="#ff0000" stroke-width="1"/>
</g>
<path d="M275 431h234v1h-234zM246 432h29v1h-29zM508 432h51v1h-51zM219 433h27v1h-27zM559 433h75v1h-75zM197 434h22v1h-22zM634 434h48v1h-48zM180 435h17v1h-17zM682 435h38v1h-38zM162 436h18v1h-18zM720 436h25v1h-25zM142 437h20v1h-20zM744 437h26v1h-26zM119 438h23v1h-23zM770 438h50v1h-50zM96 439h23v1h-23zM820 439h48v1h-48zM71 440h25v1h-25zM868 440h42v1h-42zM46 441h25v1h-25zM20 442h26v1h-26zM7 443h13v1h-13zM910 441h1v1h-1z" fill="#dc143c"/>
<text x="2.16 10.53 21.01 30.82 34.99 41.98 48.99" y="410.60" font-size="12.7" fill="#10103c">AMO(50)</text>
<text x="63.28 71.71 82.24 92.09 95.59 102.62 109.65 116.68 123.72 127.22 134.25" y="410.60" font-size="12.7" fill="#dc143c">AMO:2505.70</text>
<text class="cj" x="141.00" y="410.83" font-size="12.6" fill="#dc143c">亿</text>
<text x="162.24 170.58 181.02 189.38 196.35 203.34 206.79 213.75 220.72 227.68 234.67 238.12 245.09" y="410.60" font-size="12.7" fill="#dc143c">AMA50:2721.77</text>
<text class="cj" x="251.80" y="410.83" font-size="12.6" fill="#dc143c">亿</text></svg></body></html>
